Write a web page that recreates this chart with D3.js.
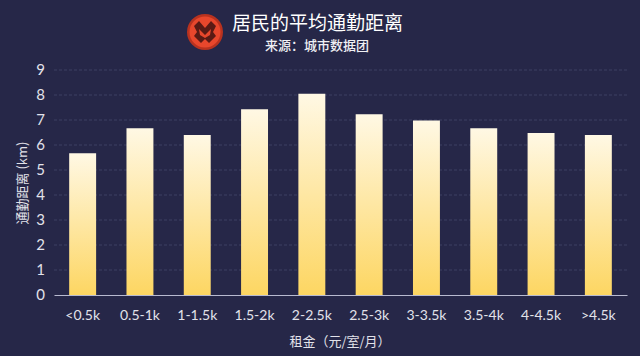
<!DOCTYPE html>
<html><head><meta charset="utf-8">
<script src="https://cdn.jsdelivr.net/npm/d3@7"></script>
<style>
html,body{margin:0;padding:0;background:#262748;}
svg{display:block;}
</style></head>
<body>
<script>
const categories = ["<0.5k","0.5-1k","1-1.5k","1.5-2k","2-2.5k","2.5-3k","3-3.5k","3.5-4k","4-4.5k",">4.5k"];
const values = [5.67, 6.67, 6.4, 7.43, 8.05, 7.23, 6.98, 6.67, 6.48, 6.4];
const yTicks = [0,1,2,3,4,5,6,7,8,9];
const title = "居民的平均通勤距离";
const subtitle = "来源：城市数据团";
const xTitle = "租金（元/室/月）";
const yTitle = "通勤距离 (km)";

const W = 640, H = 356;
const svg = d3.select("body").append("svg").attr("width", W).attr("height", H);
svg.append("rect").attr("width", W).attr("height", H).attr("fill", "#262748");

const defs = svg.append("defs");
const grad = defs.append("linearGradient").attr("id","barGrad")
  .attr("x1",0).attr("y1",0).attr("x2",0).attr("y2",1);
grad.append("stop").attr("offset","0%").attr("stop-color","#fff8e4");
grad.append("stop").attr("offset","100%").attr("stop-color","#fdd662");

const x = d3.scaleBand().domain(categories).range([54, 627]).paddingInner(0.53).paddingOuter(0.265);
const y = d3.scaleLinear().domain([0, 9]).range([295, 70]);

// gridlines
svg.append("g").selectAll("line").data(yTicks.filter(d => d > 0)).join("line")
  .attr("x1", 54).attr("x2", 627)
  .attr("y1", d => y(d)).attr("y2", d => y(d))
  .attr("stroke", "#3d4063").attr("stroke-width", 1).attr("stroke-dasharray", "3,2");

// bars
svg.append("g").selectAll("rect").data(values).join("rect")
  .attr("x", (d, i) => x(categories[i]))
  .attr("width", x.bandwidth())
  .attr("y", d => y(d))
  .attr("height", d => y(0) - y(d))
  .attr("fill", "url(#barGrad)");

// x axis
const xAxis = svg.append("g").attr("transform", `translate(0,${y(0)})`)
  .call(d3.axisBottom(x).tickSize(0).tickPadding(15));
xAxis.select(".domain").attr("stroke", "#b8bad0").attr("stroke-width", 1.2);
xAxis.selectAll("text").attr("fill", "#e2e2ea").attr("font-size", 14)
  .attr("font-family", "Lato, 'Noto Sans', sans-serif");

// y axis
const yAxis = svg.append("g").attr("transform", `translate(45,0)`)
  .call(d3.axisLeft(y).tickValues(yTicks).tickSize(0).tickPadding(0));
yAxis.select(".domain").remove();
yAxis.selectAll("text").attr("fill", "#e2e2ea").attr("font-size", 15)
  .attr("font-family", "Lato, 'Noto Sans', sans-serif");

// axis titles
svg.append("text").attr("x", 340).attr("y", 346).attr("text-anchor", "middle")
  .attr("fill", "#e2e2ea").attr("font-size", 13)
  .attr("font-family", "'Noto Sans CJK SC', sans-serif").text(xTitle);
svg.append("text").attr("transform", "translate(27,183) rotate(-90)")
  .attr("text-anchor", "middle").attr("fill", "#e2e2ea").attr("font-size", 13)
  .attr("font-family", "'Noto Sans CJK SC', sans-serif").text(yTitle);

// title
svg.append("text").attr("x", 232).attr("y", 30).attr("fill", "#ffffff")
  .attr("font-size", 19).attr("font-family", "'Noto Sans CJK SC', sans-serif").text(title);
svg.append("text").attr("x", 265).attr("y", 50).attr("fill", "#f0f0f4")
  .attr("font-size", 13).attr("font-weight", 500)
  .attr("font-family", "'Noto Sans CJK SC', sans-serif").text(subtitle);

// logo
const logo = svg.append("g").attr("transform", "translate(205,32)");
logo.append("circle").attr("r", 18).attr("fill", "#b8321f");
logo.append("circle").attr("r", 15.5).attr("fill", "#e8472c");
logo.append("path")
  .attr("d", "M-11,-6 L-6,-11 L0,-4 L6,-11 L11,-6 L8,0 L11,4 L4,11 L0,7 L-4,11 L-11,4 L-8,0 Z")
  .attr("fill", "#5a1a14");
logo.append("path")
  .attr("d", "M-6,-3 L0,3 L6,-3 L5,3 L0,6 L-5,3 Z")
  .attr("fill", "#e8472c");
</script>
</body></html>
